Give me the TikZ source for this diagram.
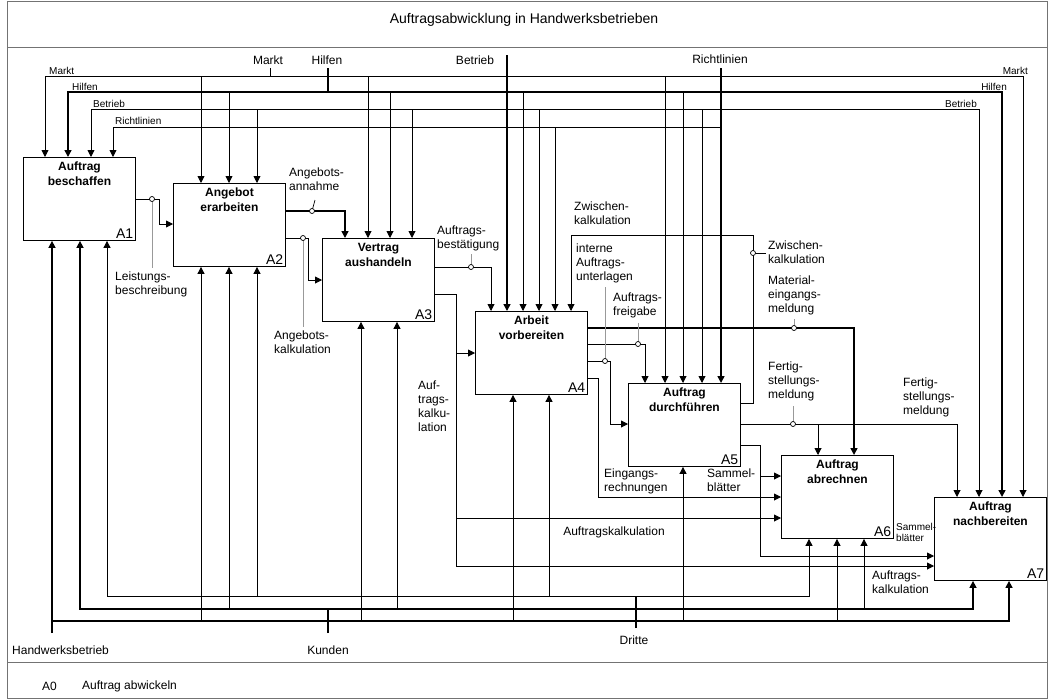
\documentclass[tikz,border=0pt]{standalone}
\usepackage{fontspec}
\setmainfont{Liberation Sans}
\usetikzlibrary{arrows.meta,calc}

\begin{document}
\begin{tikzpicture}[x=1pt,y=-1pt,
	box/.style={draw, line width=0.9pt, anchor=north west, minimum width=112pt, minimum height=83pt, inner sep=0pt},
	btitle/.style={anchor=north, align=center, inner sep=5pt, font=\fontsize{12}{15}\selectfont\bfseries},
	bnum/.style={anchor=south east, inner sep=2.5pt, font=\fontsize{14}{15}\selectfont},
	ln/.style={line width=0.9pt},
	tk/.style={line width=1.5pt},
	ar/.style={-{Triangle[length=7pt,width=7pt]}},
	arar/.style={{Triangle[length=7pt,width=7pt]}-{Triangle[length=7pt,width=7pt]}},
	lead/.style={draw=black!40, line width=0.7pt},
	dot/.style={circle, draw, fill=white, inner sep=0pt, minimum size=5pt, line width=0.7pt},
	lbl/.style={anchor=north west, align=left, inner sep=0pt, font=\fontsize{12}{14}\selectfont},
	ext/.style={inner sep=0pt, font=\fontsize{12}{14}\selectfont},
	sml/.style={inner sep=0pt, font=\fontsize{10}{11}\selectfont}]
	
	\useasboundingbox (0,0) rectangle (1048,699);
	\draw[black!55, line width=0.8pt] (7,1) rectangle (1047,698);
	\draw[black!55, line width=0.8pt] (7,47) -- (1047,47);
	\draw[black!55, line width=0.8pt] (7,662) -- (1047,662);
	\node[inner sep=0pt, font=\fontsize{14}{16}\selectfont] (title) at (524,20) {Auftragsabwicklung in Handwerksbetrieben};
	\node[ext, anchor=west] (a0) at (42,686) {A0};
	\node[ext, anchor=west] (a0name) at (82,686) {Auftrag abwickeln};
	
	\node[box, label={[btitle]north:Auftrag\\beschaffen}, label={[bnum]south east:A1}] (A1) at (23,157) {};
	\node[box, label={[btitle]north:Angebot\\erarbeiten}, label={[bnum]south east:A2}] (A2) at (173,183) {};
	\node[box, label={[btitle]north:Vertrag\\aushandeln}, label={[bnum]south east:A3}] (A3) at (322,238) {};
	\node[box, label={[btitle]north:Arbeit\\vorbereiten}, label={[bnum]south east:A4}] (A4) at (475,311) {};
	\node[box, label={[btitle]north:Auftrag\\durchführen}, label={[bnum]south east:A5}] (A5) at (628,383) {};
	\node[box, label={[btitle]north:Auftrag\\abrechnen}, label={[bnum]south east:A6}] (A6) at (781,455) {};
	\node[box, label={[btitle]north:Auftrag\\nachbereiten}, label={[bnum]south east:A7}] (A7) at (934,497) {};
	
	\node[ext] (markt) at (268,60) {Markt};
	\node[ext] (hilfen) at (327,60) {Hilfen};
	\node[ext] (betrieb) at (475,60) {Betrieb};
	\node[ext] (richtl) at (720,59) {Richtlinien};
	\node[sml, anchor=west] (marktL) at (49,71) {Markt};
	\node[sml, anchor=west] (hilfenL) at (72,87) {Hilfen};
	\node[sml, anchor=west] (betriebL) at (93,104) {Betrieb};
	\node[sml, anchor=west] (richtlL) at (115,121) {Richtlinien};
	\node[sml, anchor=east] (marktR) at (1028,71) {Markt};
	\node[sml, anchor=east] (hilfenR) at (1007,87) {Hilfen};
	\node[sml, anchor=east] (betriebR) at (977,104) {Betrieb};
	
	\draw[ln] (270,68) -- (270,76);
	\draw[ln,arar] (45,0 |- A1.north) -- (45,76) -- (1023,76) -- (1023,0 |- A7.north);
	\foreach \x/\b in {201/A2,368/A3,665/A5}
		\draw[ln,ar] (\x,76) -- (\x,0 |- \b.north);
	
	\draw[tk] (328,68) -- (328,92);
	\draw[tk,arar] (68,0 |- A1.north) -- (68,92) -- (1002,92) -- (1002,0 |- A7.north);
	\foreach \x/\b in {229/A2,390/A3,523/A4,683/A5}
		\draw[ln,ar] (\x,92) -- (\x,0 |- \b.north);
	
	\draw[tk,ar] (507,55) -- (507,0 |- A4.north);
	\draw[ln,arar] (91,0 |- A1.north) -- (91,109) -- (979,109) -- (979,0 |- A7.north);
	\foreach \x/\b in {257/A2,412/A3,539/A4,702/A5}
		\draw[ln,ar] (\x,109) -- (\x,0 |- \b.north);
	
	\draw[tk,ar] (721,68) -- (721,0 |- A5.north);
	\draw[ln,ar] (721,127) -- (113,127) -- (113,0 |- A1.north);
	\draw[ln,ar] (555,127) -- (555,0 |- A4.north);
	
	\draw[ln,ar] (A1.east |- 0,199) -- (159,199) -- (159,224) -- (A2.west |- 0,224);
	\draw[tk,ar] (A2.east |- 0,211) -- (345,211) -- (345,0 |- A3.north);
	\draw[ln,ar] (A2.east |- 0,238) -- (308,238) -- (308,280) -- (A3.west |- 0,280);
	\draw[ln,ar] (A3.east |- 0,267) -- (491,267) -- (491,0 |- A4.north);
	\draw[ln,ar] (A3.east |- 0,294) -- (456,294) -- (456,353) -- (A4.west |- 0,353);
	\draw[ln,ar] (456,353) -- (456,566) -- (A7.west |- 0,566);
	\draw[ln,ar] (456,518) -- (A6.west |- 0,518);
	\draw[tk,ar] (A4.east |- 0,328) -- (854,328) -- (854,0 |- A6.north);
	\draw[ln,ar] (A4.east |- 0,344) -- (645,344) -- (645,0 |- A5.north);
	\draw[ln,ar] (A4.east |- 0,361) -- (610,361) -- (610,424) -- (A5.west |- 0,424);
	\draw[ln,ar] (A4.east |- 0,378) -- (598,378) -- (598,497) -- (A6.west |- 0,497);
	\draw[ln,ar] (A5.east |- 0,403) -- (753,403) -- (753,235) -- (571,235) -- (571,0 |- A4.north);
	\draw[ln,ar] (A5.east |- 0,424) -- (957,424) -- (957,0 |- A7.north);
	\draw[ln,ar] (818,424) -- (818,0 |- A6.north);
	\draw[ln,ar] (A5.east |- 0,445) -- (760,445) -- (760,556) -- (A7.west |- 0,556);
	\draw[ln,ar] (760,476) -- (A6.west |- 0,476);
	
	\draw[tk,ar] (52,633) -- (52,0 |- A1.south);
	\draw[tk,ar] (52,621) -- (1009,621) -- (1009,0 |- A7.south);
	\foreach \x/\b in {201/A2,361/A3,513/A4,683/A5,837/A6}
		\draw[ln,ar] (\x,621) -- (\x,0 |- \b.south);
	\draw[tk] (328,633) -- (328,609);
	\draw[tk,arar] (80,0 |- A1.south) -- (80,609) -- (973,609) -- (973,0 |- A7.south);
	\foreach \x/\b in {229/A2,397/A3,864/A6}
		\draw[ln,ar] (\x,609) -- (\x,0 |- \b.south);
	\draw[tk] (636,628) -- (636,596);
	\draw[ln,arar] (107,0 |- A1.south) -- (107,596) -- (809,596) -- (809,0 |- A6.south);
	\foreach \x/\b in {257/A2,549/A4}
		\draw[ln,ar] (\x,596) -- (\x,0 |- \b.south);
	
	\node[ext, anchor=west] (hwb) at (12,650) {Handwerksbetrieb};
	\node[ext] (kunden) at (328,650) {Kunden};
	\node[ext] (dritte) at (634,640) {Dritte};
	
	\draw[lead] (152,199) -- (152,268);
	\draw[line width=0.7pt] (312,211) -- (315,200);
	\draw[lead] (303,238) -- (303,327);
	\draw[lead] (471,267) -- (471,254);
	\draw[lead] (605,361) -- (605,287);
	\draw[lead] (638,344) -- (638,323);
	\draw[line width=0.7pt] (753,253) -- (766,253);
	\draw[lead] (794,328) -- (794,319);
	\draw[lead] (793,424) -- (793,406);
	\foreach \x/\y/\n in {152/199/k1,312/211/k2,303/238/k3,471/267/k4,605/361/k5,638/344/k6,753/253/k7,794/328/k8,793/424/k9}
		\node[dot] (\n) at (\x,\y) {};
	
	\node[lbl] (leist) at (115,272) {Leistungs-\\beschreibung};
	\node[lbl] (annahme) at (289,168) {Angebots-\\annahme};
	\node[lbl] (angkalk) at (274,331) {Angebots-\\kalkulation};
	\node[lbl] (bestaet) at (437,226) {Auftrags-\\bestätigung};
	\node[lbl] (zwiL) at (574,202) {Zwischen-\\kalkulation};
	\node[lbl] (intern) at (576,244) {interne\\Auftrags-\\unterlagen};
	\node[lbl] (freig) at (613,293) {Auftrags-\\freigabe};
	\node[lbl] (zwiR) at (768,241) {Zwischen-\\kalkulation};
	\node[lbl] (mat) at (768,276) {Material-\\eingangs-\\meldung};
	\node[lbl] (fert1) at (768,362) {Fertig-\\stellungs-\\meldung};
	\node[lbl] (fert2) at (903,378) {Fertig-\\stellungs-\\meldung};
	\node[lbl] (eing) at (604,469) {Eingangs-\\rechnungen};
	\node[lbl] (sammel) at (707,469) {Sammel-\\blätter};
	\node[ext] (akalk) at (614,532) {Auftragskalkulation};
	\node[lbl] (akalkV) at (418,381) {Auf-\\trags-\\kalku-\\lation};
	\node[sml, anchor=north west, align=left] (sammelS) at (896,523) {Sammel-\\blätter};
	\node[lbl] (akalkR) at (872,571) {Auftrags-\\kalkulation};
	
\end{tikzpicture}
\end{document}
